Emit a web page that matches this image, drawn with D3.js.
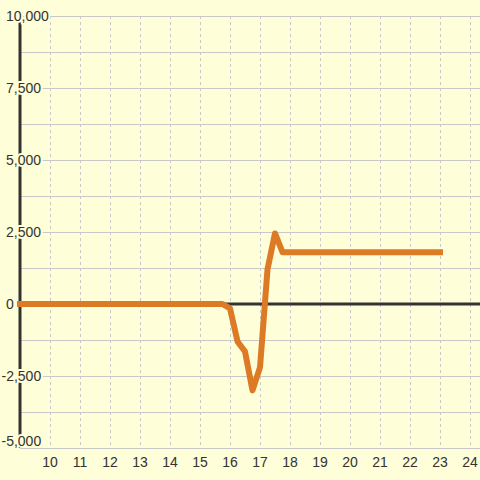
<!DOCTYPE html>
<html>
<head>
<meta charset="utf-8">
<script src="https://cdn.jsdelivr.net/npm/d3@7"></script>
<style>
  html, body { margin: 0; padding: 0; background: #fefed8; }
  svg { display: block; }
</style>
</head>
<body>
<svg id="chart"></svg>
<script>
// Data
const xValues = [9, 15.75, 16, 16.25, 16.5, 16.75, 17, 17.25, 17.5, 17.75, 23];
const yValues = [0, 0, -150, -1300, -1650, -3000, -2200, 1200, 2450, 1800, 1800];
const xTicks = [10, 11, 12, 13, 14, 15, 16, 17, 18, 19, 20, 21, 22, 23, 24];
const yTicks = [-5000, -2500, 0, 2500, 5000, 7500, 10000];
const yMinorTicks = [-3750, -1250, 1250, 3750, 6250, 8750];

function drawChart() {
    const W = 480, H = 480;
    const bg = '#fefed8';
    const grid = '#c8c8c8';
    const ink = '#333333';

    const svg = d3.select('#chart')
        .attr('width', W)
        .attr('height', H)
        .attr('viewBox', `0 0 ${W} ${H}`);

    svg.append('rect')
        .attr('width', W)
        .attr('height', H)
        .attr('fill', bg);

    // scales
    const x = d3.scaleLinear().domain([9, 24]).range([20, 470]);
    const y = d3.scaleLinear().domain([-5000, 10000]).range([448, 16]);

    const top = y(10000), bottom = y(-5000);

    // horizontal grid (major + minor), zero is drawn separately
    svg.append('g')
        .selectAll('line')
        .data(yTicks.concat(yMinorTicks).filter(d => d !== 0))
        .enter()
        .append('line')
        .attr('x1', x(9))
        .attr('x2', W)
        .attr('y1', d => y(d))
        .attr('y2', d => y(d))
        .attr('stroke', grid)
        .attr('stroke-width', 1)
        .attr('shape-rendering', 'crispEdges');

    // vertical dashed grid
    svg.append('g')
        .selectAll('line')
        .data(xTicks)
        .enter()
        .append('line')
        .attr('x1', d => Math.round(x(d)) + 0.5)
        .attr('x2', d => Math.round(x(d)) + 0.5)
        .attr('y1', top)
        .attr('y2', bottom)
        .attr('stroke', grid)
        .attr('stroke-width', 1)
        .attr('stroke-dasharray', '3,3');

    // y axis line
    svg.append('line')
        .attr('x1', x(9))
        .attr('x2', x(9))
        .attr('y1', top)
        .attr('y2', bottom)
        .attr('stroke', ink)
        .attr('stroke-width', 3);

    // zero line
    svg.append('line')
        .attr('x1', x(9))
        .attr('x2', W)
        .attr('y1', y(0))
        .attr('y2', y(0))
        .attr('stroke', ink)
        .attr('stroke-width', 3);

    // the series
    const pts = xValues.map((v, i) => [v, yValues[i]]);
    const line = d3.line()
        .x(d => x(d[0]))
        .y(d => y(d[1]));

    svg.append('path')
        .datum(pts)
        .attr('d', line)
        .attr('fill', 'none')
        .attr('stroke', '#dc7a26')
        .attr('stroke-width', 6)
        .attr('stroke-linecap', 'square')
        .attr('stroke-linejoin', 'round');

    const fmt = d3.format(',');
    const font = '"Liberation Sans", Arial, sans-serif';

    // y labels, with a halo that knocks out lines behind them
    svg.append('g')
        .selectAll('text')
        .data(yTicks)
        .enter()
        .append('text')
        .attr('x', d => d < 0 ? 1.5 : 6)
        .attr('y', d => Math.min(y(d) + 5, bottom - 2))
        .attr('fill', ink)
        .attr('stroke', bg)
        .attr('stroke-width', 4)
        .attr('stroke-linejoin', 'round')
        .attr('paint-order', 'stroke')
        .style('font-family', font)
        .style('font-size', '14px')
        .text(d => fmt(d).replace('\u2212', '-'));

    // x labels
    svg.append('g')
        .selectAll('text')
        .data(xTicks)
        .enter()
        .append('text')
        .attr('x', d => x(d))
        .attr('y', 466.5)
        .attr('text-anchor', 'middle')
        .attr('fill', ink)
        .style('font-family', font)
        .style('font-size', '14px')
        .text(d => d);
}

drawChart();
</script>
</body>
</html>
